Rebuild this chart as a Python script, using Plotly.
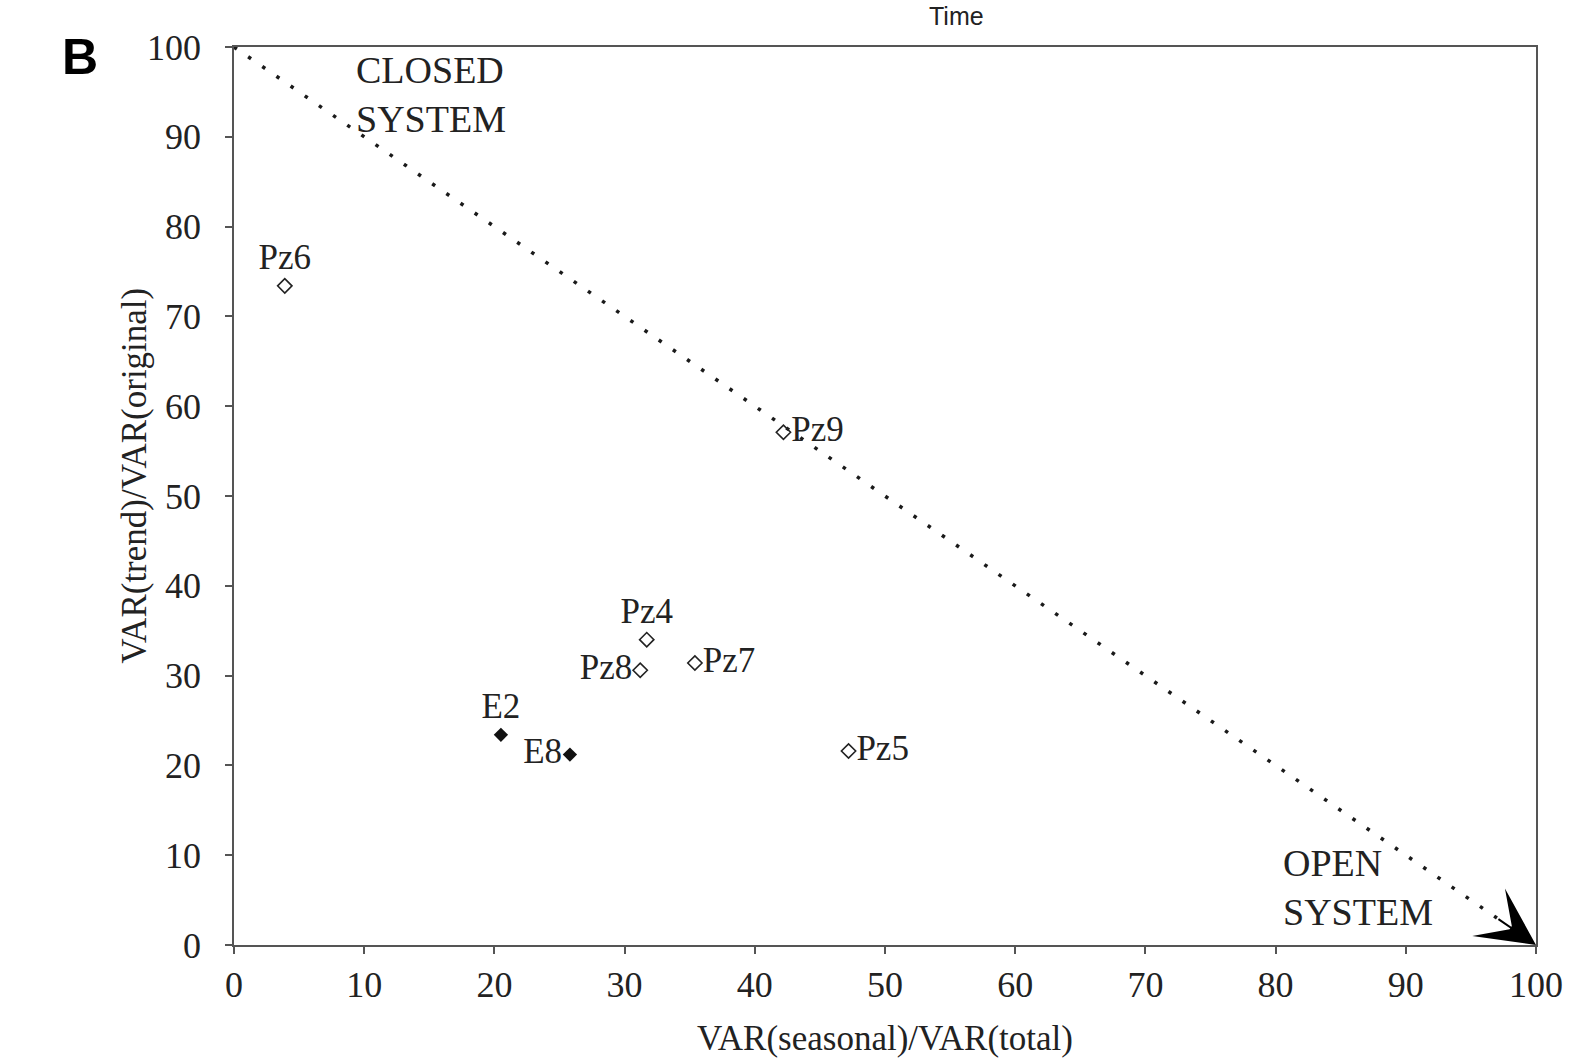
import plotly.graph_objects as go

# Data
open_names = ["Pz6", "Pz9", "Pz4", "Pz8", "Pz7", "Pz5"]
open_x = [3.9, 42.2, 31.7, 31.2, 35.4, 47.2]
open_y = [73.4, 57.1, 34.0, 30.6, 31.4, 21.6]
open_pos = ["top center", "middle right", "top center", "middle left", "middle right", "middle right"]

filled_names = ["E2", "E8"]
filled_x = [20.5, 25.8]
filled_y = [23.4, 21.2]
filled_pos = ["top center", "middle left"]

line_x = [0, 97]
line_y = [100, 3]

ticks = [0, 10, 20, 30, 40, 50, 60, 70, 80, 90, 100]

SERIF = "Liberation Serif, Times New Roman, serif"
SANS = "Liberation Sans, Arial, sans-serif"

# plot area in page pixels
PL, PR, PT, PB = 234, 1537, 47, 948
def px(x):
    return (x - PL) / (PR - PL)
def py(y):
    return (PB - y) / (PB - PT)

fig = go.Figure()

fig.add_trace(go.Scatter(
    x=line_x, y=line_y, mode="lines",
    line=dict(color="#1a1a1a", width=3.5, dash="3.5px,13.7px"),
    hoverinfo="skip", showlegend=False))

fig.add_trace(go.Scatter(
    x=open_x, y=open_y, mode="markers+text", text=open_names,
    textposition=open_pos,
    textfont=dict(family=SERIF, size=35, color="#222"),
    marker=dict(symbol="diamond-open", size=11, color="#222", line=dict(width=1.6)),
    showlegend=False))

fig.add_trace(go.Scatter(
    x=filled_x, y=filled_y, mode="markers+text", text=filled_names,
    textposition=filled_pos,
    textfont=dict(family=SERIF, size=35, color="#222"),
    marker=dict(symbol="diamond", size=11, color="#111"),
    showlegend=False))

# arrowhead at the end of the dotted line
fig.add_annotation(x=100, y=0, ax=97, ay=3, axref="x", ayref="y", xref="x", yref="y",
                   showarrow=True, arrowhead=3, arrowsize=4.8, arrowwidth=2,
                   arrowcolor="#000", text="")

fig.add_annotation(x=9.2, y=94.7, xref="x", yref="y", text="CLOSED<br>SYSTEM",
                   showarrow=False, xanchor="left", yanchor="middle", align="left",
                   font=dict(family=SERIF, size=38, color="#222"))
fig.add_annotation(x=80.4, y=6.4, xref="x", yref="y", text="OPEN<br>SYSTEM",
                   showarrow=False, xanchor="left", yanchor="middle", align="left",
                   font=dict(family=SERIF, size=38, color="#222"))

fig.add_annotation(x=px(80), y=py(57), xref="paper", yref="paper",
                   text="<b>B</b>", showarrow=False, xanchor="center", yanchor="middle",
                   font=dict(family=SANS, size=50, color="#000"))
fig.add_annotation(x=px(957), y=py(16), xref="paper", yref="paper",
                   text="Time", showarrow=False, xanchor="center", yanchor="middle",
                   font=dict(family=SANS, size=25, color="#222"))

# y-axis title as annotation (sits closer than standoff allows)
fig.add_annotation(x=px(134), y=py(477), xref="paper", yref="paper",
                   text="VAR(trend)/VAR(original)", textangle=-90, showarrow=False,
                   xanchor="center", yanchor="middle",
                   font=dict(family=SERIF, size=35, color="#222"))

axis_common = dict(
    range=[0, 100], tickvals=ticks, ticktext=[str(t) for t in ticks],
    showgrid=False, zeroline=False, showline=True, linecolor="#555", linewidth=1.5,
    mirror=True, ticks="outside", ticklen=7, tickcolor="#555", tickwidth=1.5,
    tickfont=dict(family=SERIF, size=36, color="#222"),
)

fig.update_xaxes(**axis_common,
                 title=dict(text="VAR(seasonal)/VAR(total)", standoff=22,
                            font=dict(family=SERIF, size=35, color="#222")))
fig.update_yaxes(**axis_common, ticklabelstandoff=17)

fig.update_layout(
    width=1575, height=1063,
    margin=dict(l=PL, r=1575 - PR, t=PT, b=1063 - PB),
    paper_bgcolor="white", plot_bgcolor="white",
    showlegend=False,
)

fig.write_html("out.html", config={"displayModeBar": False},
               post_script="document.body.style.margin='0';")
